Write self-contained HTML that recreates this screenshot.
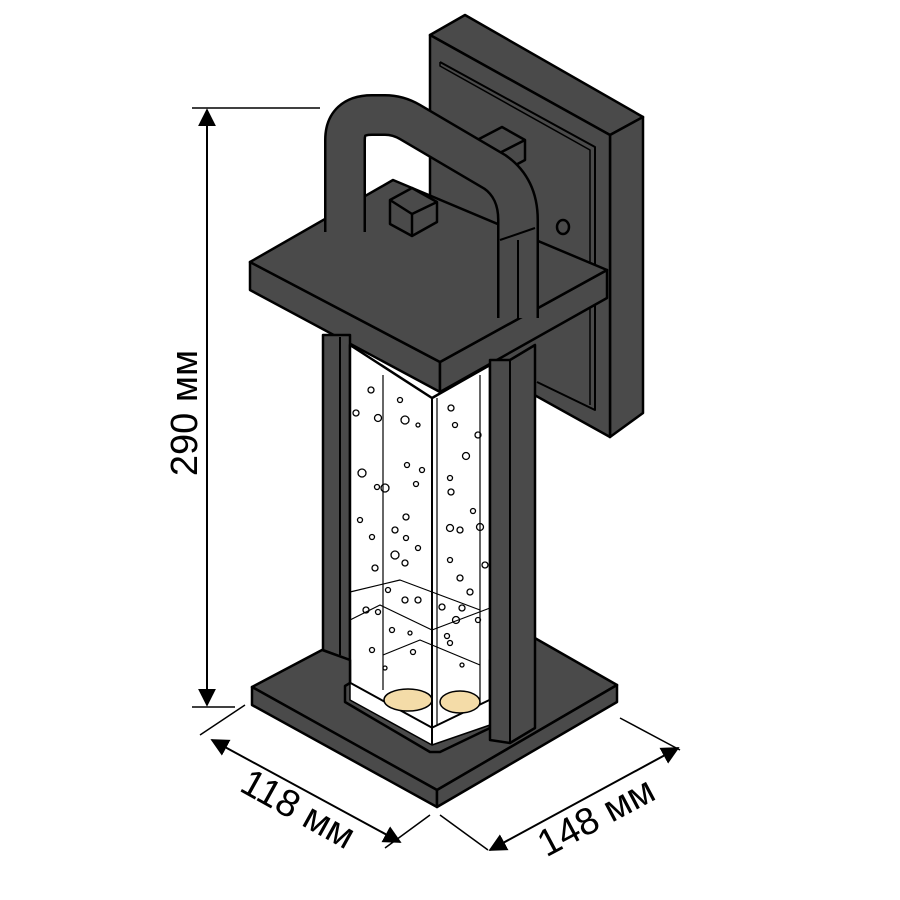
<!DOCTYPE html>
<html><head><meta charset="utf-8"><style>
body{margin:0;background:#fff;}
svg{display:block}
text{font-family:"Liberation Sans",sans-serif;font-size:38px;fill:#000}
</style></head><body>
<svg width="900" height="900" viewBox="0 0 900 900" xmlns="http://www.w3.org/2000/svg">
<defs>
<marker id="ar" viewBox="0 0 10 10" refX="9" refY="5" markerWidth="9" markerHeight="9" orient="auto-start-reverse"><path d="M0,0 L10,5 L0,10 z" fill="#000"/></marker>
</defs>
<g stroke="#000" stroke-width="2.5" stroke-linejoin="round" fill="#4a4a4a">
<!-- wall plate -->
<polygon points="430,35 465,15 643,117 610,135"/>
<polygon points="610,135 643,117 643,413 610,437"/>
<polygon points="430,35 610,135 610,437 430,337"/>
<polyline points="440,62 595,147 595,410 537,382" fill="none" stroke-width="2"/>
<polyline points="440,62 440,66 590,150 590,405" fill="none" stroke-width="1.5"/>
<!-- bracket arm -->
<polygon points="458,150 502,127 525,140 525,160 480,184 458,171"/>
<polyline points="458,150 480,163 525,140" fill="none"/>
<line x1="480" y1="163" x2="480" y2="184"/>
<ellipse cx="563" cy="227" rx="6" ry="7"/>
<!-- cap -->
<polygon points="250,262 440,362 440,392 250,290"/>
<polygon points="440,362 607,270 607,298 440,392"/>
<polygon points="250,262 393,180 607,270 440,362"/>
<!-- handle -->
<path d="M345,232 L345,140 Q345,115 372,115 L385,115 Q398,115 410,122 L495,172 Q518,188 518,220 L518,318" fill="none" stroke="#000" stroke-width="42" stroke-linejoin="round"/>
<path d="M345,232 L345,140 Q345,115 372,115 L385,115 Q398,115 410,122 L495,172 Q518,188 518,220 L518,318" fill="none" stroke="#4a4a4a" stroke-width="37" stroke-linejoin="round"/>
<line x1="500" y1="240" x2="535" y2="228" stroke-width="2"/>
<line x1="518" y1="240" x2="518" y2="320" stroke-width="2"/>
<!-- small box on cap -->
<polygon points="390,200 412,188 437,202 437,222 412,236 390,224"/>
<polyline points="390,200 412,214 437,202" fill="none"/>
<line x1="412" y1="214" x2="412" y2="236"/>
<!-- left post -->
<polygon points="323,335 350,335 350,660 323,650"/>
<line x1="340" y1="337" x2="340" y2="655" stroke-width="2"/>
<!-- glass -->
<polygon points="350,345 432,398 490,365 490,725 432,745 350,700" fill="#fff"/>
<line x1="383" y1="375" x2="383" y2="690" stroke-width="1.2"/>
<line x1="432" y1="398" x2="432" y2="745" stroke-width="2"/>
<line x1="437" y1="398" x2="437" y2="745" stroke-width="1.2"/>
<line x1="480" y1="375" x2="480" y2="730" stroke-width="1.2"/>
<polyline points="350,592 400,580 480,610" fill="none" stroke-width="1.2"/>
<polyline points="350,620 380,605 432,630 490,608" fill="none" stroke-width="1.2"/>
<polyline points="383,655 420,640 480,665" fill="none" stroke-width="1.2"/>
<!-- base -->
<polygon points="252,687 322,650 350,660 350,700 432,745 490,725 490,660 533,637 617,685 437,790"/>
<polygon points="252,687 437,790 437,807 252,705"/>
<polygon points="437,790 617,685 617,702 437,807"/>
<polygon points="345,686 350,683 432,728 490,700 490,728 440,752 430,752 345,702"/>
<polygon points="350,683 432,728 490,700 490,725 432,745 350,700" fill="#fff" stroke-width="1.5"/>
<ellipse cx="408" cy="700" rx="24" ry="11" fill="#f4dca8" stroke-width="1.5"/>
<ellipse cx="460" cy="702" rx="20" ry="11" fill="#f4dca8" stroke-width="1.5"/>
<line x1="432" y1="690" x2="432" y2="745" stroke-width="2"/>
<!-- right post -->
<polygon points="490,360 510,360 535,345 535,728 510,743 490,740"/>
<line x1="510" y1="360" x2="510" y2="743" stroke-width="2"/>
</g>
<!-- bubbles -->
<g fill="none" stroke="#000" stroke-width="1.3">
<circle cx="371" cy="390" r="3"/><circle cx="356" cy="413" r="3"/><circle cx="378" cy="418" r="3.5"/><circle cx="400" cy="400" r="2.5"/><circle cx="405" cy="420" r="4"/><circle cx="418" cy="425" r="2"/><circle cx="451" cy="408" r="3"/><circle cx="455" cy="425" r="2.5"/><circle cx="466" cy="456" r="3.5"/><circle cx="450" cy="478" r="2.5"/><circle cx="362" cy="473" r="4"/><circle cx="377" cy="487" r="2.5"/><circle cx="385" cy="488" r="4"/><circle cx="407" cy="465" r="2.5"/><circle cx="422" cy="470" r="2.5"/><circle cx="416" cy="484" r="2.5"/><circle cx="451" cy="492" r="3"/><circle cx="360" cy="520" r="2.5"/><circle cx="395" cy="530" r="3"/><circle cx="406" cy="517" r="3"/><circle cx="395" cy="555" r="4"/><circle cx="406" cy="538" r="2.5"/><circle cx="450" cy="528" r="3.5"/><circle cx="460" cy="530" r="3"/><circle cx="480" cy="527" r="3.5"/><circle cx="473" cy="511" r="2.5"/><circle cx="372" cy="537" r="2.5"/><circle cx="375" cy="568" r="3"/><circle cx="405" cy="563" r="3"/><circle cx="418" cy="548" r="2.5"/><circle cx="450" cy="560" r="2.5"/><circle cx="460" cy="578" r="3"/><circle cx="388" cy="590" r="2.5"/><circle cx="405" cy="600" r="3"/><circle cx="462" cy="608" r="3"/><circle cx="470" cy="592" r="3"/><circle cx="366" cy="610" r="3"/><circle cx="378" cy="612" r="2.5"/><circle cx="418" cy="600" r="3"/><circle cx="442" cy="607" r="3"/><circle cx="456" cy="620" r="3.5"/><circle cx="392" cy="630" r="2.5"/><circle cx="410" cy="633" r="2"/><circle cx="447" cy="636" r="2.5"/><circle cx="372" cy="650" r="2.5"/><circle cx="413" cy="652" r="2.5"/><circle cx="450" cy="643" r="2.5"/><circle cx="385" cy="668" r="2"/><circle cx="462" cy="665" r="2"/><circle cx="478" cy="435" r="3"/><circle cx="485" cy="565" r="3"/><circle cx="478" cy="620" r="2.5"/>
</g>
<!-- dimensions -->
<g stroke="#000" stroke-width="1.5" fill="none">
<line x1="192" y1="108" x2="320" y2="108"/>
<line x1="192" y1="707" x2="235" y2="707"/>
<line x1="207" y1="110" x2="207" y2="705" marker-start="url(#ar)" marker-end="url(#ar)" stroke-width="2"/>
<line x1="245" y1="705" x2="200" y2="735"/>
<line x1="430" y1="815" x2="385" y2="848"/>
<line x1="212" y1="740" x2="400" y2="842" marker-start="url(#ar)" marker-end="url(#ar)" stroke-width="2"/>
<line x1="440" y1="815" x2="488" y2="850"/>
<line x1="620" y1="718" x2="680" y2="750"/>
<line x1="490" y1="850" x2="678" y2="748" marker-start="url(#ar)" marker-end="url(#ar)" stroke-width="2"/>
</g>
<text transform="translate(197,413) rotate(-90)" text-anchor="middle">290 мм</text>
<text transform="translate(292,820) rotate(29)" text-anchor="middle">118 мм</text>
<text transform="translate(602,828) rotate(-28)" text-anchor="middle">148 мм</text>
</svg>
</body></html>
